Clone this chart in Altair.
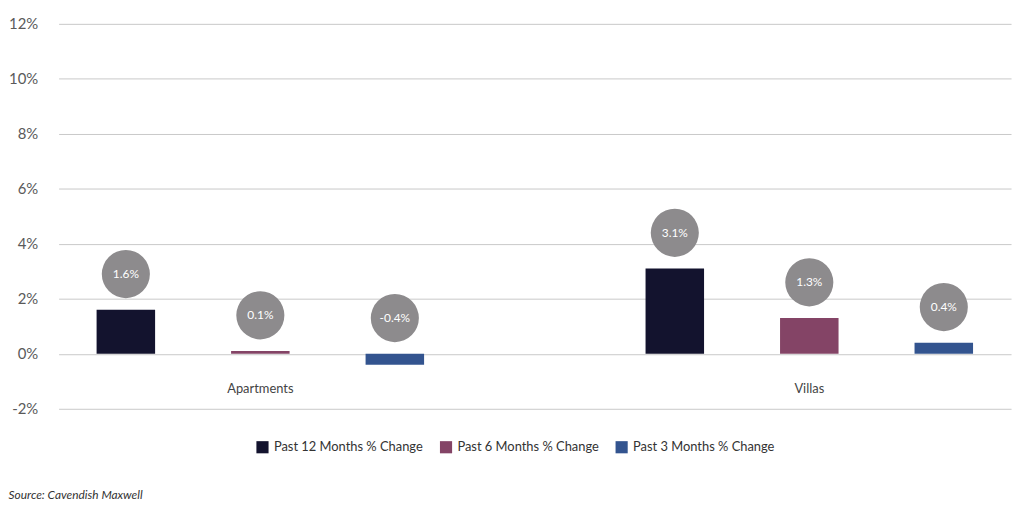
import altair as alt
import pandas as pd

categories = ["Apartments", "Villas"]
series = ["Past 12 Months % Change", "Past 6 Months % Change", "Past 3 Months % Change"]
apartments = [1.6, 0.1, -0.4]
villas = [3.1, 1.3, 0.4]
colors = ["#13132e", "#844466", "#33548f"]
y_ticks = [-2, 0, 2, 4, 6, 8, 10, 12]

rows = []
for cat, vals in zip(categories, [apartments, villas]):
    for s, v in zip(series, vals):
        rows.append({"cat": cat, "series": s, "value": v,
                     "top": max(v, 0), "label": f"{v:.1f}%"})
df = pd.DataFrame(rows)

FONT = "Lato"

x_enc = alt.X("cat:N", sort=categories,
              scale=alt.Scale(paddingInner=0.265, paddingOuter=0),
              axis=alt.Axis(title=None, domain=False, ticks=False, grid=False,
                            labelAngle=0, labelPadding=-26, labelFontSize=13,
                            labelColor="#444444", labelFont=FONT))
xo_enc = alt.XOffset("series:N", sort=series,
                     scale=alt.Scale(paddingInner=0.565, paddingOuter=0.2825))
y_scale = alt.Scale(domain=[-2, 12], nice=False)

base = alt.Chart(df).encode(x=x_enc, xOffset=xo_enc)

bars = base.mark_bar().encode(
    y=alt.Y("value:Q", scale=y_scale,
            axis=alt.Axis(title=None, values=y_ticks, labelExpr="datum.value + '%'",
                          domain=False, ticks=False, grid=True, gridColor="#c8c8c8",
                          gridWidth=1, labelFontSize=15, labelColor="#5a5a5a",
                          labelPadding=21, labelFont=FONT)),
    color=alt.Color("series:N", sort=series,
                    scale=alt.Scale(domain=series, range=colors),
                    legend=alt.Legend(title=None, orient="none", direction="horizontal",
                                      legendX=199, legendY=420, symbolType="square",
                                      symbolSize=150, symbolStrokeWidth=0,
                                      labelFontSize=13, labelColor="#333333",
                                      labelFont=FONT, columnPadding=16, labelOffset=5)),
)

circles = base.mark_circle(size=2350, color="#8d8b8d", opacity=1, yOffset=-36).encode(
    y=alt.Y("top:Q", scale=y_scale, title=None)
)
texts = base.mark_text(color="white", fontSize=12, fontWeight="normal", font=FONT,
                       yOffset=-36).encode(
    y=alt.Y("top:Q", scale=y_scale, title=None),
    text="label:N",
)

chart = alt.layer(bars, circles, texts).properties(
    width=960, height=388,
    autosize=alt.AutoSizeParams(type="none"),
    padding={"left": 51, "top": 14, "right": 5, "bottom": 96},
    title=alt.TitleParams("Source: Cavendish Maxwell", orient="bottom", anchor="start",
                          fontSize=12, fontStyle="italic", fontWeight="normal",
                          color="#333333", font=FONT, dx=0, offset=36),
).configure_view(stroke=None)

chart.save("out.html", embed_options={"renderer": "svg", "actions": False})
